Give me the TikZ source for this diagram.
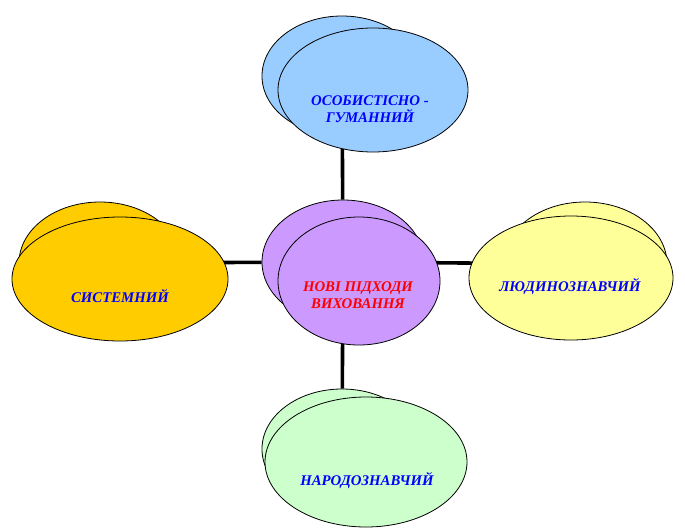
\documentclass[tikz,border=0pt]{standalone}
\usepackage{fontspec}
\setmainfont{Liberation Serif}
\usetikzlibrary{shapes.geometric}

\definecolor{blakyt}{HTML}{99CCFF}
\definecolor{buzok}{HTML}{CC99FF}
\definecolor{zhovtyi}{HTML}{FFCC00}
\definecolor{limon}{HTML}{FFFF99}
\definecolor{myata}{HTML}{CCFFCC}

\begin{document}
\begin{tikzpicture}[x=1pt, y=-1pt,
    every node/.style={ellipse, draw, line width=0.8pt, inner sep=0pt},
    txt/.style={draw=none, rectangle, align=center, text=blue,
      font=\fontsize{14.8}{17}\selectfont\bfseries\itshape}]
  \useasboundingbox (0,0) rectangle (685,530);
  % Nodos
  \node[fill=blakyt, minimum width=160pt, minimum height=120pt] (osb) at (342,76) {};
  \node[fill=buzok, minimum width=162pt, minimum height=124pt] (nvb) at (343,262) {};
  \node[fill=zhovtyi, minimum width=162pt, minimum height=122pt] (sysb) at (100,263) {};
  \node[fill=limon, minimum width=164pt, minimum height=124pt] (ljb) at (585,264) {};
  \node[fill=myata, minimum width=160pt, minimum height=120pt] (nrb) at (342,449) {};

  % Aristas
  \draw[line width=3.6pt] (nvb) -- (osb);
  \draw[line width=3.6pt] (nvb) -- (sysb);
  \draw[line width=3.6pt] (nvb) -- (ljb);
  \draw[line width=3.6pt] (nvb) -- (nrb);

  \node[fill=blakyt, minimum width=190pt, minimum height=124pt] (os) at (373,90) {};
  \node[fill=buzok, minimum width=162pt, minimum height=128pt] (nv) at (359,281) {};
  \node[fill=zhovtyi, minimum width=216pt, minimum height=124pt] (sys) at (120,279) {};
  \node[fill=limon, minimum width=204pt, minimum height=124pt] (lj) at (571,278) {};
  \node[fill=myata, minimum width=202pt, minimum height=130pt] (nr) at (366,462) {};

  \node[txt] (ost) at (370,109) {ОСОБИСТІСНО -\\ГУМАННИЙ};
  \node[txt, text=red] (nvt) at (358,295) {НОВІ ПІДХОДИ\\ВИХОВАННЯ};
  \node[txt] (syst) at (120,296) {СИСТЕМНИЙ};
  \node[txt] (ljt) at (570,287) {ЛЮДИНОЗНАВЧИЙ};
  \node[txt] (nrt) at (367,481) {НАРОДОЗНАВЧИЙ};
\end{tikzpicture}
\end{document}
